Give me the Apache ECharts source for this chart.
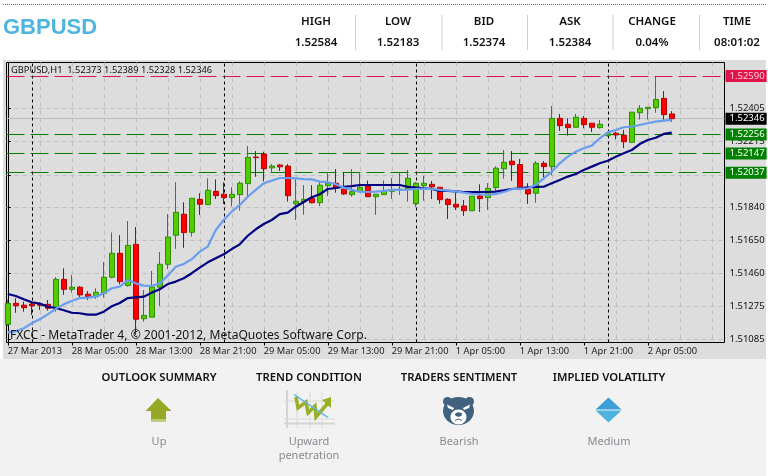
<!DOCTYPE html>
<html><head><meta charset="utf-8">
<style>html,body{margin:0;padding:0;background:#fff}#c{width:768px;height:476px}</style>
<script src="https://cdn.jsdelivr.net/npm/echarts@6/dist/echarts.min.js"></script>
</head><body><div id="c"></div>
<script>
const opens=[1.51171,1.51291,1.51280,1.51287,1.51285,1.51285,1.51263,1.51428,1.51371,1.51383,1.51343,1.51329,1.51348,1.51440,1.51577,1.51392,1.51628,1.51203,1.51212,1.51383,1.51514,1.51680,1.51800,1.51697,1.51885,1.51855,1.51931,1.51914,1.51895,1.51912,1.51975,1.52127,1.52144,1.52065,1.52081,1.52075,1.51860,1.51872,1.51891,1.51866,1.51963,1.51977,1.51943,1.51912,1.51929,1.51961,1.51900,1.51912,1.51931,1.51937,1.51943,1.51860,1.51963,1.51971,1.51954,1.51885,1.51857,1.51847,1.51820,1.51904,1.51895,1.51952,1.52060,1.52103,1.52084,1.51943,1.51920,1.52091,1.52072,1.52348,1.52314,1.52297,1.52348,1.52320,1.52295,1.52249,1.52263,1.52251,1.52211,1.52380,1.52403,1.52409,1.52462,1.52373];
const closes=[1.51291,1.51277,1.51266,1.51277,1.51280,1.51263,1.51428,1.51371,1.51383,1.51339,1.51329,1.51354,1.51440,1.51577,1.51415,1.51622,1.51200,1.51222,1.51384,1.51514,1.51670,1.51811,1.51695,1.51891,1.51857,1.51937,1.51906,1.51895,1.51914,1.51977,1.52125,1.52123,1.52060,1.52075,1.52071,1.51906,1.51874,1.51885,1.51866,1.51966,1.51977,1.51952,1.51916,1.51929,1.51954,1.51900,1.51914,1.51935,1.51939,1.51943,1.52005,1.51977,1.51977,1.51956,1.51883,1.51855,1.51841,1.51820,1.51903,1.51889,1.51948,1.52063,1.52097,1.52083,1.51954,1.51916,1.52091,1.52072,1.52348,1.52306,1.52295,1.52354,1.52312,1.52297,1.52314,1.52260,1.52253,1.52214,1.52383,1.52405,1.52411,1.52456,1.52369,1.52346];
const lows=[1.51161,1.51237,1.51243,1.51224,1.51253,1.51249,1.51243,1.51339,1.51352,1.51325,1.51310,1.51316,1.51323,1.51434,1.51400,1.51386,1.51110,1.51186,1.51212,1.51276,1.51486,1.51602,1.51608,1.51672,1.51796,1.51855,1.51887,1.51859,1.51845,1.51821,1.51893,1.52014,1.51988,1.52037,1.52047,1.51872,1.51767,1.51797,1.51862,1.51847,1.51904,1.51923,1.51910,1.51900,1.51929,1.51900,1.51796,1.51912,1.51887,1.51910,1.51872,1.51843,1.51877,1.51887,1.51859,1.51773,1.51824,1.51790,1.51820,1.51813,1.51824,1.51925,1.52003,1.51990,1.51954,1.51859,1.51866,1.52011,1.52024,1.52276,1.52249,1.52297,1.52291,1.52270,1.52289,1.52243,1.52228,1.52178,1.52211,1.52341,1.52341,1.52380,1.52339,1.52328];
const highs=[1.51313,1.51320,1.51300,1.51295,1.51295,1.51310,1.51441,1.51491,1.51453,1.51390,1.51361,1.51377,1.51527,1.51696,1.51681,1.51761,1.51727,1.51367,1.51476,1.51584,1.51801,1.51983,1.51868,1.51893,1.51920,1.52005,1.51999,1.51983,1.51955,1.51988,1.52190,1.52161,1.52157,1.52087,1.52087,1.52087,1.52000,1.51966,1.51966,1.51984,1.52041,1.52058,1.52040,1.52058,1.52040,1.51993,1.51914,1.51993,1.52007,1.52040,1.52053,1.51984,1.52019,1.51990,1.51954,1.51891,1.51925,1.51881,1.51903,1.51971,1.51978,1.52074,1.52167,1.52161,1.52116,1.51977,1.52104,1.52104,1.52419,1.52373,1.52348,1.52373,1.52361,1.52320,1.52339,1.52271,1.52271,1.52281,1.52383,1.52424,1.52413,1.52584,1.52504,1.52389];
const maSlow=[1.51344,1.51333,1.51314,1.51297,1.51289,1.51272,1.51264,1.51251,1.51237,1.51234,1.51226,1.51226,1.51243,1.51274,1.51293,1.51321,1.51325,1.51329,1.51352,1.51371,1.51401,1.51415,1.51434,1.51463,1.51495,1.51525,1.51548,1.51571,1.51601,1.51628,1.51677,1.51714,1.51744,1.51767,1.51801,1.51809,1.51843,1.51870,1.51897,1.51914,1.51944,1.51950,1.51957,1.51961,1.51967,1.51967,1.51967,1.51967,1.51967,1.51967,1.51956,1.51952,1.51948,1.51944,1.51933,1.51933,1.51931,1.51927,1.51927,1.51927,1.51927,1.51929,1.51936,1.51944,1.51948,1.51954,1.51956,1.51957,1.51977,1.51996,1.52015,1.52030,1.52053,1.52072,1.52091,1.52106,1.52129,1.52148,1.52167,1.52201,1.52224,1.52237,1.52259,1.52266];
const maFast=[1.51125,1.51131,1.51148,1.51177,1.51200,1.51228,1.51259,1.51285,1.51304,1.51321,1.51323,1.51329,1.51348,1.51377,1.51386,1.51424,1.51405,1.51392,1.51390,1.51405,1.51449,1.51500,1.51516,1.51543,1.51586,1.51615,1.51710,1.51767,1.51815,1.51853,1.51900,1.51939,1.51977,1.51992,1.52007,1.52007,1.52005,1.52001,1.51999,1.51986,1.51983,1.51971,1.51952,1.51939,1.51929,1.51927,1.51929,1.51933,1.51939,1.51939,1.51940,1.51944,1.51946,1.51944,1.51939,1.51935,1.51931,1.51923,1.51917,1.51914,1.51910,1.51916,1.51927,1.51943,1.51946,1.51948,1.51967,1.52005,1.52043,1.52091,1.52129,1.52157,1.52177,1.52192,1.52234,1.52268,1.52281,1.52297,1.52300,1.52310,1.52320,1.52329,1.52335,1.52339];
const priceTicks=[1.52405,1.52215,1.52025,1.51840,1.51650,1.51460,1.51275,1.51085];
const timeLabelBars=[0,8,16,24,32,40,48,56,64,72,80];
const timeLabels=["27 Mar 2013","28 Mar 05:00","28 Mar 13:00","28 Mar 21:00","29 Mar 05:00","29 Mar 13:00","29 Mar 21:00","1 Apr 05:00","1 Apr 13:00","1 Apr 21:00","2 Apr 05:00"];
const gridBars=[0,4,8,12,16,20,24,28,32,36,40,44,48,52,56,60,64,68,72,76,80,84,88];
const dayBreakBars=[3,27,51,75];
const greenLevels=[1.52256,1.52147,1.52037];
const redLevel=1.52590, lastPrice=1.52346;
const headNames=["HIGH","LOW","BID","ASK","CHANGE","TIME"];
const headValues=["1.52584","1.52183","1.52374","1.52384","0.04%","08:01:02"];
const panelTitles=["OUTLOOK SUMMARY","TREND CONDITION","TRADERS SENTIMENT","IMPLIED VOLATILITY"];

const GRID={left:6.5,top:62.5,width:718,height:280};
const XMIN=-0.15625,XMAX=XMIN+GRID.width/8;
const chart=echarts.init(document.getElementById('c'),null,{renderer:'canvas',width:768,height:476});
const FONT='"Noto Sans",sans-serif';
const candles=opens.map((o,i)=>[i,o,closes[i],lows[i],highs[i]]);
const boxLabel=(bg,fg)=>({show:true,position:'end',distance:1,formatter:p=>p.value.toFixed(5),backgroundColor:bg,color:fg,fontFamily:FONT,fontSize:9.5,padding:[1,2,1,4],lineHeight:10});
const hl=(v,color,bg,fg,type,w)=>({yAxis:v,lineStyle:{color,type,width:w||1},label:boxLabel(bg,fg)});

const columns=[316,398,484,570,652,737], seps=[355.5,442,527.5,613,699.5];
const titleX=[159,309,459,609];
const g=[];
g.push({type:'rect',z:-20,shape:{x:3,y:60,width:763,height:299},style:{fill:'#dddddd'}});
g.push({type:'rect',z:-20,shape:{x:0,y:359,width:766,height:117},style:{fill:'#f2f2f2'}});
g.push({type:'line',z:-20,shape:{x1:3,y1:4.5,x2:766,y2:4.5},style:{stroke:'#666',lineWidth:1,lineDash:[1,1]}});
g.push({type:'text',style:{x:3,y:28,text:'GBPUSD',fill:'#4fb5de',font:'bold 22px "Liberation Sans",sans-serif',textVerticalAlign:'middle'}});
headNames.forEach((n,i)=>{
 g.push({type:'text',style:{x:columns[i],y:22,text:n,fill:'#111',font:'600 11.5px '+FONT,textAlign:'center',textVerticalAlign:'middle'}});
 g.push({type:'text',style:{x:columns[i],y:42.5,text:headValues[i],fill:'#111',font:'600 11.5px '+FONT,textAlign:'center',textVerticalAlign:'middle'}});
});
seps.forEach(x=>g.push({type:'line',shape:{x1:x,y1:15,x2:x,y2:50},style:{stroke:'#cccccc',lineWidth:1}}));
g.push({type:'text',z:30,style:{x:11,y:70.5,text:'GBPUSD,H1  1.52373 1.52389 1.52328 1.52346',fill:'#111',font:'9.3px '+FONT,textVerticalAlign:'middle'}});
g.push({type:'text',z:30,style:{x:10,y:335.5,text:'FXCC - MetaTrader 4, © 2001-2012, MetaQuotes Software Corp.',fill:'#111',font:'12.1px '+FONT,textVerticalAlign:'middle'}});
panelTitles.forEach((t,i)=>g.push({type:'text',style:{x:titleX[i],y:377.5,text:t,fill:'#111',font:'600 11.3px '+FONT,textAlign:'center',textVerticalAlign:'middle'}}));
const sub=(t,x,y)=>g.push({type:'text',style:{x,y,text:t,fill:'#8a8a92',font:'11px '+FONT,textAlign:'center',textVerticalAlign:'middle'}});
sub('Up',159,442);sub('Upward',309,442);sub('penetration',309,456);sub('Bearish',459,442);sub('Medium',609,442);
// up-arrow icon
g.push({type:'polygon',shape:{points:[[158,398],[171.5,411],[166,411],[166,421.5],[151,421.5],[151,411],[145.5,411]]},style:{fill:'#97a824'}});
g.push({type:'rect',shape:{x:151,y:419,width:15,height:2.5},style:{fill:'#bcc878'}});
// trend icon
[[284,419,335,419],[284,401,335,401],[297,391,297,428],[310,391,310,428],[322,391,322,428]].forEach(a=>g.push({type:'line',shape:{x1:a[0],y1:a[1],x2:a[2],y2:a[3]},style:{stroke:'#e2e2e2',lineWidth:1.5}}));
g.push({type:'line',shape:{x1:284,y1:423.5,x2:335,y2:423.5},style:{stroke:'#d4d4d4',lineWidth:2}});
g.push({type:'line',shape:{x1:287,y1:390,x2:287,y2:428},style:{stroke:'#d4d4d4',lineWidth:2}});
g.push({type:'polyline',shape:{points:[[296,397],[298,408],[306,402],[308,413],[315,406],[316,417],[328,403]]},style:{stroke:'#9aae26',fill:null,lineWidth:3.5}});
g.push({type:'polygon',shape:{points:[[331,397],[331,408],[322,400]]},style:{fill:'#9aae26'}});
g.push({type:'line',shape:{x1:294,y1:394.5,x2:328,y2:417.5},style:{stroke:'#56b7e0',lineWidth:1.5}});
// bear icon
const B='#41627f';
g.push({type:'circle',shape:{cx:447.5,cy:401.5,r:4.5},style:{fill:B}});
g.push({type:'circle',shape:{cx:469.5,cy:401.5,r:4.5},style:{fill:B}});
g.push({type:'ellipse',shape:{cx:458.5,cy:411,rx:15.5,ry:14},style:{fill:B}});
g.push({type:'polygon',shape:{points:[[447,404.5],[454,408],[453,410],[448,408]]},style:{fill:'#fff'}});
g.push({type:'polygon',shape:{points:[[470,404.5],[463,408],[464,410],[469,408]]},style:{fill:'#fff'}});
g.push({type:'ellipse',shape:{cx:458.5,cy:417,rx:8,ry:7.5},style:{fill:'#fff'}});
g.push({type:'ellipse',shape:{cx:458.5,cy:414.5,rx:3.5,ry:2.2},style:{fill:B}});
g.push({type:'polyline',shape:{points:[[455,420.5],[458.5,419],[462,420.5]]},style:{stroke:B,fill:null,lineWidth:1}});
// diamond icon
g.push({type:'polygon',shape:{points:[[608.5,397.5],[621.5,409.5],[595.5,409.5]]},style:{fill:'#3d9fd8'}});
g.push({type:'polygon',shape:{points:[[595.5,410.5],[621.5,410.5],[608.5,422.5]]},style:{fill:'#4fb2e0'}});

chart.setOption({
 animation:false,
 backgroundColor:'#ffffff',
 grid:{...GRID,show:true,backgroundColor:'#dddddd',borderColor:'#000',borderWidth:1,z:0},
 graphic:{elements:g},
 xAxis:[
  {type:'value',min:XMIN,max:XMAX,position:'bottom',axisLine:{show:false},
   axisTick:{show:false,customValues:gridBars},axisLabel:{show:false},
   splitLine:{show:true,lineStyle:{color:'#bdbdbd',type:[4,4],width:1}}},
  {type:'value',min:XMIN,max:XMAX,position:'bottom',axisLine:{show:false},splitLine:{show:false},
   axisTick:{show:true,length:3,lineStyle:{color:'#000'},customValues:timeLabelBars},
   axisLabel:{show:true,customValues:timeLabelBars,margin:4,align:'left',color:'#222',fontFamily:FONT,fontSize:9.3,
     formatter:v=>timeLabels[timeLabelBars.indexOf(v)]||''}}
 ],
 yAxis:{type:'value',position:'right',min:1.51067,max:1.52667,scale:true,
  axisLine:{show:true,lineStyle:{color:'#000'}},
  axisTick:{show:true,length:3,lineStyle:{color:'#000'},customValues:priceTicks},
  axisLabel:{show:true,customValues:priceTicks,margin:5,color:'#111',fontFamily:FONT,fontSize:9.5,formatter:v=>v.toFixed(5)},
  splitLine:{show:true,lineStyle:{color:'#bdbdbd',type:[4,4],width:1}}},
 series:[
  {type:'line',name:'levels',xAxisIndex:0,data:[],z:2,
   markLine:{silent:true,symbol:'none',animation:false,precision:5,z:2,
    data:[
     hl(lastPrice,'#bbbbbb','#000000','#ffffff','solid'),
     ...greenLevels.map(v=>hl(v,'#008000','#008000','#ffffff',[18,6])),
     hl(redLevel,'#e0144c','#e0144c','#ffd0d8',[18,6]),
     ...dayBreakBars.map(b=>({xAxis:b,lineStyle:{color:'#000',type:[3,3],width:1},label:{show:false}}))
    ]}},
  {type:'candlestick',name:'GBPUSD',xAxisIndex:0,data:candles,barWidth:5,z:3,clip:true,
   itemStyle:{color:'#55cc00',color0:'#ff0000',borderColor:'#2a8f00',borderColor0:'#b40000',borderWidth:1}},
  {type:'line',name:'MA slow',xAxisIndex:0,data:maSlow.map((v,i)=>[i,v]),showSymbol:false,z:4,lineStyle:{color:'#000080',width:2.2}},
  {type:'line',name:'MA fast',xAxisIndex:0,data:maFast.map((v,i)=>[i,v]),showSymbol:false,z:5,lineStyle:{color:'#6a9df0',width:2.2}}
 ]
});
</script></body></html>
